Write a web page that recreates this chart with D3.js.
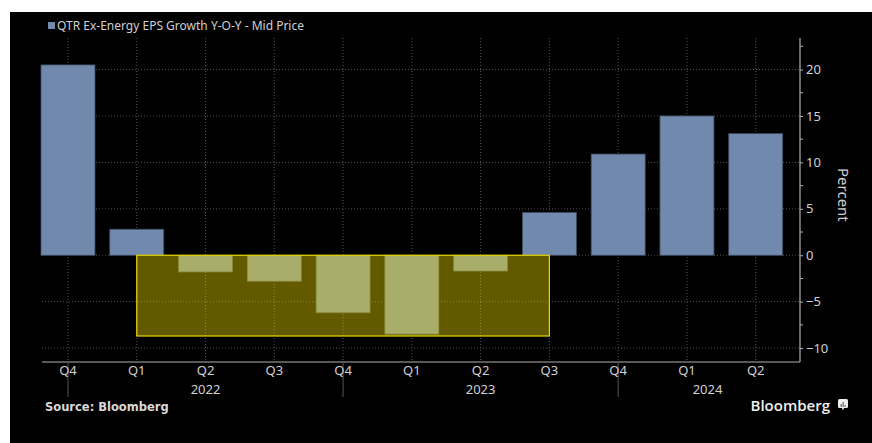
<!DOCTYPE html>
<html>
<head>
<meta charset="utf-8">
<script src="https://cdn.jsdelivr.net/npm/d3@7"></script>
<style>
  html, body { margin: 0; padding: 0; background: #ffffff; }
  svg { display: block; }
</style>
</head>
<body>
<svg id="chart" width="872" height="443"></svg>
<script>
// ---- data ----
const quarters = ["Q4","Q1","Q2","Q3","Q4","Q1","Q2","Q3","Q4","Q1","Q2"];
const periods  = ["2021 Q4","2022 Q1","2022 Q2","2022 Q3","2022 Q4","2023 Q1","2023 Q2","2023 Q3","2023 Q4","2024 Q1","2024 Q2"];
const epsGrowth = [20.5, 2.8, -1.8, -2.8, -6.2, -8.5, -1.7, 4.6, 10.9, 15.0, 13.1];
const yTicks = [-10, -5, 0, 5, 10, 15, 20];
const yearLabels = ["2022", "2023", "2024"];
const yearAnchors = ["2022 Q2", "2023 Q2", "2024 Q1"];
const yearSeparators = ["2021 Q4", "2022 Q4", "2023 Q4"];
const highlightFrom = "2022 Q1", highlightTo = "2023 Q3", highlightLow = -8.7;
const seriesName = "QTR Ex-Energy EPS Growth Y-O-Y - Mid Price";

// ---- layout ----
const svg = d3.select("#chart");
const plot = { left: 42, right: 800, top: 38, bottom: 362 };

svg.append("rect").attr("x", 10).attr("y", 12).attr("width", 862).attr("height", 431).attr("fill", "#000");

const x = d3.scaleBand().domain(periods).range([33.6, 790.1]).paddingInner(0.215).paddingOuter(0.1075);
const xc = p => x(p) + x.bandwidth() / 2;
const y = d3.scaleLinear().domain([-11.5, 23.4]).range([plot.bottom, plot.top]);

const gridColor = "#505050";
const textColor = "#d0d0d0";
const font = "'Noto Sans', 'DejaVu Sans', sans-serif";

// horizontal gridlines
svg.append("g").selectAll("line").data(yTicks).join("line")
  .attr("x1", plot.left).attr("x2", plot.right)
  .attr("y1", d => y(d)).attr("y2", d => y(d))
  .attr("stroke", gridColor).attr("stroke-width", 1).attr("stroke-dasharray", "1,2");

// vertical gridlines
svg.append("g").selectAll("line").data(periods).join("line")
  .attr("x1", d => xc(d)).attr("x2", d => xc(d))
  .attr("y1", plot.top).attr("y2", plot.bottom)
  .attr("stroke", gridColor).attr("stroke-width", 1).attr("stroke-dasharray", "1,2");

// bars
svg.append("g").selectAll("rect").data(epsGrowth).join("rect")
  .attr("x", (d, i) => x(periods[i]))
  .attr("width", x.bandwidth())
  .attr("y", d => y(Math.max(0, d)))
  .attr("height", d => Math.abs(y(d) - y(0)))
  .attr("fill", "#7189ad")
  .attr("stroke", "#3f4d63").attr("stroke-width", 0.8);

// highlight box
svg.append("rect")
  .attr("x", xc(highlightFrom)).attr("y", y(0))
  .attr("width", xc(highlightTo) - xc(highlightFrom))
  .attr("height", y(highlightLow) - y(0))
  .attr("fill", "#fee900").attr("fill-opacity", 0.39)
  .attr("stroke", "#e6d800").attr("stroke-width", 1.2);

// x axis line
svg.append("line").attr("x1", plot.left).attr("x2", plot.right)
  .attr("y1", plot.bottom).attr("y2", plot.bottom)
  .attr("stroke", "#b0b0b0").attr("stroke-width", 1.2);

// year separators
svg.append("g").selectAll("line").data(yearSeparators).join("line")
  .attr("x1", d => xc(d)).attr("x2", d => xc(d))
  .attr("y1", plot.bottom).attr("y2", 397)
  .attr("stroke", "#555").attr("stroke-width", 1);

// quarter labels
const xAxis = d3.axisBottom(x).tickSize(0).tickPadding(0).tickFormat((d, i) => quarters[i]);
const gx = svg.append("g").attr("transform", `translate(0,${plot.bottom + 4})`).call(xAxis);
gx.select(".domain").remove();
gx.selectAll("text").attr("fill", textColor).attr("font-family", font).attr("font-size", 13).attr("dy", "0.71em");

// year labels
svg.append("g").selectAll("text").data(yearLabels).join("text")
  .attr("x", (d, i) => i === 2 ? xc(yearAnchors[i]) + x.step() * 0.3 : xc(yearAnchors[i]))
  .attr("y", 394)
  .attr("text-anchor", "middle")
  .attr("fill", textColor).attr("font-family", font).attr("font-size", 13)
  .text(d => d);

// right y axis
const yAxis = d3.axisRight(y).tickValues(yTicks).tickSize(3).tickPadding(3).tickFormat(d3.format("d"));
const gy = svg.append("g").attr("transform", `translate(${plot.right},0)`).call(yAxis);
gy.select(".domain").attr("stroke", "#b0b0b0").attr("stroke-width", 1.2)
  .attr("d", `M0,${plot.top}V${plot.bottom}`);
gy.selectAll(".tick line").attr("stroke", "#b0b0b0");
gy.selectAll("text").attr("fill", textColor).attr("font-family", font).attr("font-size", 13);
// minor ticks
const minor = d3.range(-10, 23, 2.5).filter(v => !yTicks.includes(v));
svg.append("g").selectAll("line").data(minor).join("line")
  .attr("x1", plot.right).attr("x2", plot.right + 3)
  .attr("y1", d => y(d)).attr("y2", d => y(d))
  .attr("stroke", "#b0b0b0");

// axis title
svg.append("text")
  .attr("transform", `translate(838,${y(6.5)}) rotate(90)`)
  .attr("text-anchor", "middle")
  .attr("fill", textColor).attr("font-family", font).attr("font-size", 15)
  .text("Percent");

// legend
svg.append("rect").attr("x", 48).attr("y", 22).attr("width", 7).attr("height", 7).attr("fill", "#7189ad");
svg.append("text").attr("x", 57).attr("y", 30)
  .attr("fill", textColor).attr("font-family", font).attr("font-size", 12)
  .text(seriesName);

// source
svg.append("text").attr("x", 45).attr("y", 411)
  .attr("fill", "#d8d8d8").attr("font-family", "'DejaVu Sans', sans-serif").attr("font-weight", "bold").attr("font-size", 11.5)
  .text("Source: Bloomberg");

// Bloomberg logo
svg.append("text").attr("x", 830).attr("y", 411).attr("text-anchor", "end")
  .attr("fill", "#f0f0f0").attr("font-family", "'Open Sans', sans-serif").attr("font-weight", 600).attr("font-size", 15)
  .text("Bloomberg");
const icon = svg.append("g").attr("transform", "translate(838,399)");
icon.append("rect").attr("width", 10).attr("height", 9).attr("rx", 1.5).attr("fill", "#eee");
icon.append("path").attr("d", "M4,9 L5,11.5 L6,9 Z").attr("fill", "#eee");
icon.selectAll("rect.b").data([3, 5, 2]).join("rect").attr("class", "b")
  .attr("x", (d, i) => 2.5 + i * 2).attr("y", d => 8 - d).attr("width", 1.3).attr("height", d => d)
  .attr("fill", "#777");
</script>
</body>
</html>
